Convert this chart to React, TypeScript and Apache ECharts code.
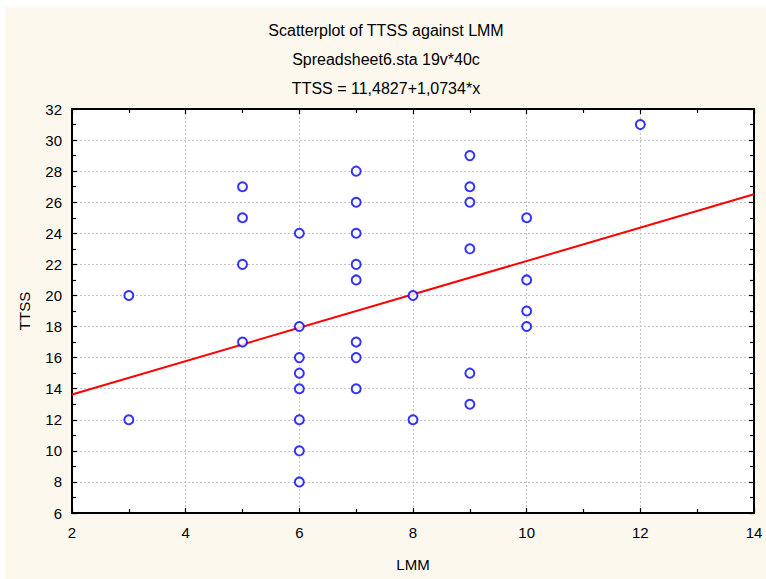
import React, { useEffect, useRef } from "react";
import * as echarts from "echarts";

const titleLines = [
  "Scatterplot of TTSS against LMM",
  "Spreadsheet6.sta 19v*40c",
  "TTSS = 11,4827+1,0734*x",
];
const xName = "LMM";
const yName = "TTSS";

// LMM values of each case
const lmm = [
  3, 3,
  5, 5, 5, 5,
  6, 6, 6, 6, 6, 6, 6, 6,
  7, 7, 7, 7, 7, 7, 7, 7,
  8, 8,
  9, 9, 9, 9, 9, 9,
  10, 10, 10, 10,
  12,
];
// TTSS values of each case
const ttss = [
  20, 12,
  27, 25, 22, 17,
  24, 18, 16, 15, 14, 12, 10, 8,
  28, 26, 24, 22, 21, 17, 16, 14,
  20, 12,
  29, 27, 26, 23, 15, 13,
  25, 21, 19, 18,
  31,
];

const intercept = 11.4827;
const slope = 1.0734;
const xMin = 2;
const xMax = 14;
const yMin = 6;
const yMax = 32;

const FONT = "'Liberation Sans', Arial, sans-serif";

export default function App() {
  const ref = useRef<HTMLDivElement>(null);

  useEffect(() => {
    if (!ref.current) return;
    const chart = echarts.init(ref.current, undefined, { renderer: "svg" });
    const points = lmm.map((x, i) => [x, ttss[i]]);
    const fitLine = [
      [xMin, intercept + slope * xMin],
      [xMax, intercept + slope * xMax],
    ];

    const axisCommon = {
      type: "value" as const,
      axisLine: { show: true, onZero: false, lineStyle: { color: "#000", width: 2 } },
      axisTick: { show: true, inside: true, length: 5, lineStyle: { color: "#000", width: 1.2 } },
      minorTick: { show: true, splitNumber: 2, length: 4, lineStyle: { color: "#000", width: 1.2 } },
    };

    chart.setOption({
      animation: false,
      backgroundColor: "transparent",
      textStyle: { fontFamily: FONT },
      grid: {
        left: 72,
        right: 12,
        top: 109,
        bottom: 66,
        show: true,
        backgroundColor: "#ffffff",
        borderWidth: 0,
      },
      graphic: titleLines.map((t, i) => ({
        type: "text",
        x: 386,
        y: 30 + i * 29,
        style: {
          text: t,
          fontSize: 16,
          fontFamily: FONT,
          fill: "#000",
          align: "center",
          verticalAlign: "middle",
        },
      })),
      xAxis: [
        {
          ...axisCommon,
          position: "bottom",
          min: xMin,
          max: xMax,
          interval: 2,
          splitLine: { show: true, lineStyle: { color: "#c4c4c4", type: [2, 2], width: 1 } },
          axisLabel: { fontSize: 15, color: "#000", margin: 12, fontFamily: FONT },
          name: xName,
          nameLocation: "middle",
          nameGap: 44,
          nameTextStyle: { fontSize: 15, color: "#000", fontFamily: FONT },
        },
        {
          ...axisCommon,
          position: "top",
          min: xMin,
          max: xMax,
          interval: 2,
          splitLine: { show: false },
          axisLabel: { show: false },
        },
      ],
      yAxis: [
        {
          ...axisCommon,
          position: "left",
          min: yMin,
          max: yMax,
          interval: 2,
          splitLine: { show: true, lineStyle: { color: "#c4c4c4", type: [2, 2], width: 1 } },
          axisLabel: { fontSize: 15, color: "#000", margin: 10, fontFamily: FONT },
          name: yName,
          nameLocation: "middle",
          nameGap: 40,
          nameRotate: 90,
          nameTextStyle: { fontSize: 15, color: "#000", fontFamily: FONT },
        },
        {
          ...axisCommon,
          position: "right",
          min: yMin,
          max: yMax,
          interval: 2,
          splitLine: { show: false },
          axisLabel: { show: false },
        },
      ],
      series: [
        {
          type: "line",
          data: fitLine,
          xAxisIndex: 0,
          yAxisIndex: 0,
          showSymbol: false,
          symbol: "none",
          lineStyle: { color: "#ff0000", width: 2 },
          z: 2,
        },
        {
          type: "scatter",
          data: points,
          xAxisIndex: 0,
          yAxisIndex: 0,
          symbol: "emptyCircle",
          symbolSize: 9,
          itemStyle: { color: "#0000ff", borderColor: "#0000ff", borderWidth: 1 },
          z: 3,
        },
      ],
    });

    return () => chart.dispose();
  }, []);

  return (
    <div style={{ position: "absolute", left: 0, top: 0, width: 766, height: 579, background: "#ffffff" }}>
      <div
        style={{
          position: "absolute",
          left: 5,
          top: 7,
          width: 761,
          height: 572,
          background: "#fcf8ee",
        }}
      />
      <div ref={ref} style={{ position: "absolute", left: 0, top: 0, width: 766, height: 579 }} />
    </div>
  );
}
